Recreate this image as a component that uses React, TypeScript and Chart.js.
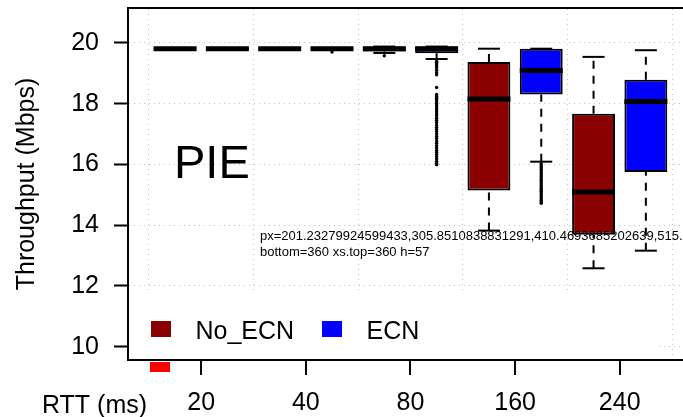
import React, { useEffect, useRef } from 'react';
import { Chart, registerables } from 'chart.js';

Chart.register(...registerables);

// ---------- data ----------
const rttLabels = ['20', '40', '80', '160', '240'];
const seriesNames = ['No_ECN', 'ECN'];
const seriesColors = ['#8B0000', '#0000FF'];
const yTickValues = [10, 12, 14, 16, 18, 20];
const panelLabel = 'PIE';
const xAxisName = 'RTT (ms)';
const yAxisName = 'Throughput (Mbps)';

const noEcnLow = [19.79, 19.79, 19.67, 13.82, 12.58];
const noEcnQ1 = [19.79, 19.79, 19.72, 15.14, 13.68];
const noEcnMedian = [19.81, 19.81, 19.81, 18.15, 15.09];
const noEcnQ3 = [19.83, 19.83, 19.88, 19.37, 17.67];
const noEcnHigh = [19.83, 19.83, 19.88, 19.81, 19.54];
const noEcnOutliers: number[][] = [[], [], [19.58], [], []];

const ecnLow = [19.79, 19.79, 19.47, 16.09, 13.16];
const ecnQ1 = [19.79, 19.79, 19.66, 18.3, 15.75];
const ecnMedian = [19.81, 19.81, 19.81, 19.09, 18.07];
const ecnQ3 = [19.83, 19.83, 19.88, 19.81, 18.79];
const ecnHigh = [19.83, 19.83, 19.88, 19.81, 19.76];
const ecnOutliers: number[][] = [
  [],
  [19.7],
  [
    19.4, 19.36, 19.31, 19.25, 19.18, 19.1, 19.02, 18.95, 18.53, 18.3, 18.24, 18.18,
    18.12, 18.06, 18.0, 17.93, 17.86, 17.8, 17.73, 17.66, 17.6, 17.52, 17.45, 17.38,
    17.3, 17.22, 17.15, 17.08, 17.0, 16.92, 16.85, 16.77, 16.7, 16.62, 16.55, 16.47,
    16.4, 16.33, 16.25, 16.18, 16.1, 16.04, 15.99,
  ],
  [
    16.02, 15.96, 15.9, 15.84, 15.78, 15.72, 15.66, 15.6, 15.54, 15.48, 15.42, 15.36,
    15.3, 15.24, 15.18, 15.12, 15.06, 15.0, 14.94, 14.88, 14.82, 14.76, 14.72,
  ],
  [],
];

const FONT = "'Liberation Sans', Arial, Helvetica, sans-serif";

const zeroPadding = (sc: any) => {
  sc.paddingTop = 0;
  sc.paddingBottom = 0;
  sc.paddingLeft = 0;
  sc.paddingRight = 0;
};

const groupTick = (g: number) => 2 * g + 1.5;

export default function App() {
  const ref = useRef<HTMLCanvasElement>(null);

  useEffect(() => {
    const canvas = ref.current;
    if (!canvas) return;

    const allSeries = [
      { low: noEcnLow, q1: noEcnQ1, med: noEcnMedian, q3: noEcnQ3, high: noEcnHigh, out: noEcnOutliers },
      { low: ecnLow, q1: ecnQ1, med: ecnMedian, q3: ecnQ3, high: ecnHigh, out: ecnOutliers },
    ];
    const pos = (g: number, s: number) => 2 * g + 1 + s;

    const bars = allSeries.map((sr, s) => ({
      type: 'bar' as const,
      label: seriesNames[s],
      data: rttLabels.map((_, g) => ({ x: pos(g, s), y: [sr.q1[g], sr.q3[g]] })),
      backgroundColor: seriesColors[s],
      borderColor: '#000',
      borderWidth: 2,
      borderSkipped: false,
      grouped: false,
      categoryPercentage: 1,
      barPercentage: 0.82,
      order: 4,
    }));

    const whiskerData: { x: number; y: number }[] = [];
    const stapleData: { x: number; y: number }[] = [];
    const medianData: { x: number; y: number }[] = [];
    const outlierData: { x: number; y: number }[] = [];
    allSeries.forEach((sr, s) => {
      rttLabels.forEach((_, g) => {
        const x = pos(g, s);
        whiskerData.push(
          { x, y: sr.low[g] }, { x, y: sr.q1[g] }, { x, y: NaN },
          { x, y: sr.q3[g] }, { x, y: sr.high[g] }, { x, y: NaN },
        );
        stapleData.push({ x, y: sr.low[g] }, { x, y: sr.high[g] });
        medianData.push({ x, y: sr.med[g] });
        sr.out[g].forEach((v) => outlierData.push({ x, y: v }));
      });
    });

    const annotations = {
      id: 'annotations',
      beforeDatasetsDraw(chart: any) {
        const { ctx, chartArea: a } = chart;
        ctx.save();
        ctx.fillStyle = '#ffffff';
        ctx.fillRect(a.left + 1, 292, 655 - a.left - 1, a.bottom - 1 - 292);
        ctx.restore();
      },
      afterDraw(chart: any) {
        const { ctx, chartArea: a } = chart;
        const xs = chart.scales.x;
        ctx.save();
        const pxs = rttLabels.map((_l, g) => xs.getPixelForValue(groupTick(g)));
        ctx.fillStyle = 'red';
        ctx.fillRect(150, 362, 20, 10);
        ctx.fillStyle = '#000';
        pxs.forEach((px) => ctx.fillRect(Math.round(px) - 1, a.bottom, 2, 15));
        ctx.font = `13px ${FONT}`;
        ctx.fillText('px=' + pxs.map((p: number) => String(p)).join(','), 260, 240);
        ctx.fillText('bottom=' + a.bottom + ' xs.top=' + xs.top + ' h=' + xs.height, 260, 256);
        ctx.textAlign = 'left';
        ctx.textBaseline = 'alphabetic';
        const boxX = [151, 322];
        const textX = [195.5, 366.5];
        seriesNames.forEach((name, i) => {
          ctx.fillStyle = seriesColors[i];
          ctx.fillRect(boxX[i], 321, 20, 16);
          ctx.fillStyle = '#000';
          ctx.font = `25px ${FONT}`;
          ctx.fillText(name, textX[i], 338.5);
        });
        ctx.font = `47px ${FONT}`;
        ctx.fillText(panelLabel, 174, 177.5);
        ctx.font = `25px ${FONT}`;
        ctx.fillText(xAxisName, 42, 412.5);
        ctx.restore();
      },
    };

    const tickFont = { family: FONT, size: 25 };
    const gridColor = '#c2c2c2';

    const chart = new Chart(canvas, {
      type: 'bar',
      data: {
        datasets: [
          { type: 'scatter', label: 'median', data: medianData, pointStyle: 'line', pointRadius: 21.5, pointBorderWidth: 5, pointBorderColor: '#000', order: 0 } as any,
          { type: 'scatter', label: 'outliers', data: outlierData, pointStyle: 'circle', pointRadius: 1.7, pointBorderWidth: 0, pointBackgroundColor: '#000', order: 1 } as any,
          { type: 'scatter', label: 'staples', data: stapleData, pointStyle: 'line', pointRadius: 11, pointBorderWidth: 2, pointBorderColor: '#000', order: 2 } as any,
          { type: 'line', label: 'whiskers', data: whiskerData, borderColor: '#000', borderWidth: 2, borderDash: [8, 7], pointRadius: 0, spanGaps: false, fill: false, order: 3 } as any,
          ...(bars as any[]),
        ],
      },
      options: {
        responsive: false,
        animation: false,
        events: [],
        layout: { autoPadding: false, padding: { top: 8, left: 0, right: 0, bottom: 0 } },
        plugins: { legend: { display: false }, tooltip: { enabled: false } },
        scales: {
          x: {
            type: 'linear', position: 'bottom', min: 0.1, max: 10.71, offset: false,
            afterBuildTicks: (sc: any) => { sc.ticks = rttLabels.map((_, g) => ({ value: groupTick(g) })); },
            afterFit: (sc: any) => { sc.height = 57; zeroPadding(sc); },
            ticks: { callback: (_v: any, i: number) => rttLabels[i], font: tickFont, color: '#000', padding: 28, maxRotation: 0, autoSkip: false },
            grid: { offset: false, drawOnChartArea: false, drawTicks: false },
            border: { display: true, color: '#000', width: 2 },
          },
          x2: {
            type: 'linear', position: 'top', min: 0.1, max: 10.71, offset: false,
            afterBuildTicks: (sc: any) => { sc.ticks = [0, 1, 2, 3, 4, 5].map((g) => ({ value: 2 * g + 0.5 })); },
            afterFit: (sc: any) => { sc.height = 0; zeroPadding(sc); },
            ticks: { display: false },
            grid: { offset: false, drawOnChartArea: true, drawTicks: false, color: gridColor, lineWidth: 1 },
            border: { display: true, color: '#000', width: 2, dash: [1, 4] },
          },
          y: {
            type: 'linear', position: 'left', min: 9.56, max: 21.15,
            afterBuildTicks: (sc: any) => { sc.ticks = yTickValues.map((v) => ({ value: v })); },
            afterFit: (sc: any) => { sc.width = 128; zeroPadding(sc); },
            ticks: { callback: (v: any) => String(v), font: tickFont, color: '#000', padding: 15 },
            grid: { color: gridColor, lineWidth: 1, drawTicks: true, tickLength: 14, tickColor: '#000', tickWidth: 2, tickBorderDash: [] },
            border: { display: true, color: '#000', width: 2, dash: [1, 4] },
            title: { display: true, text: yAxisName, font: { family: FONT, size: 25 }, color: '#000', padding: { top: 12, bottom: 0 } },
          },
        },
      } as any,
      plugins: [annotations],
    });

    return () => chart.destroy();
  }, []);

  return (
    <div style={{ position: 'fixed', left: 0, top: 0, width: 683, height: 417, background: '#fff' }}>
      <canvas ref={ref} width={683} height={417} style={{ width: 683, height: 417, display: 'block' }} />
    </div>
  );
}
